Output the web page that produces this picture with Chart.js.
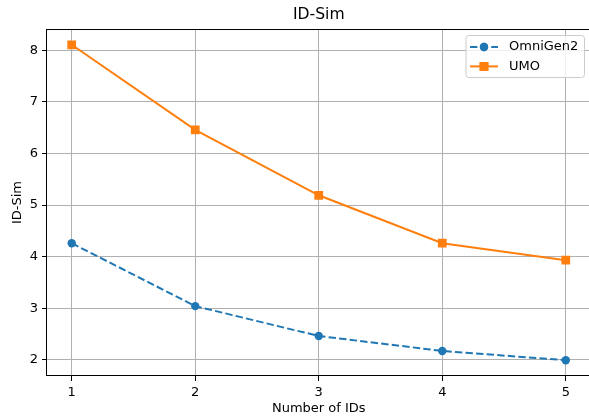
<!DOCTYPE html>
<html>
<head>
<meta charset="utf-8">
<script src="https://cdn.jsdelivr.net/npm/chart.js@4"></script>
<style>
html, body { margin: 0; padding: 0; background: #fff; overflow: hidden; }
#caixa { width: 589px; height: 417px; overflow: hidden; }
</style>
</head>
<body>
<div id="caixa"><canvas id="linhas" width="591" height="417"></canvas></div>
<script>
// dados
const numIds = [1, 2, 3, 4, 5];
const omnigen2 = [4.26, 3.04, 2.46, 2.17, 1.99];
const umo = [8.11, 6.46, 5.19, 4.26, 3.93];
const xTicks = [1, 2, 3, 4, 5];
const yTicks = [2, 3, 4, 5, 6, 7, 8];

Chart.defaults.font.family = "'DejaVu Sans', sans-serif";
Chart.defaults.font.size = 13;
Chart.defaults.color = '#000';

// margem de 5% como no matplotlib
const todos = omnigen2.concat(umo);
const yMin = Math.min(...todos), yMax = Math.max(...todos);
const yPad = (yMax - yMin) * 0.05;
const xPad = (numIds[numIds.length - 1] - numIds[0]) * 0.05;

const moldura = {
    id: 'moldura',
    afterDraw(chart) {
        const ctx = chart.ctx;
        const a = chart.chartArea;
        ctx.save();
        ctx.strokeStyle = '#000';
        ctx.lineWidth = 1;
        ctx.strokeRect(Math.round(a.left) - 0.5, Math.round(a.top) + 0.5,
            Math.round(a.width) + 1, Math.round(a.height) - 1);

        // legenda dentro do grafico
        const bx = a.right - 124.5, by = a.top + 6.5, bw = 118.5, bh = 42;
        ctx.beginPath();
        ctx.roundRect(bx, by, bw, bh, 3);
        ctx.fillStyle = 'rgba(255,255,255,0.8)';
        ctx.fill();
        ctx.strokeStyle = '#cccccc';
        ctx.stroke();

        chart.data.datasets.forEach((ds, i) => {
            const y = by + 11.5 + i * 19.4;
            ctx.beginPath();
            ctx.setLineDash(ds.borderDash || []);
            ctx.strokeStyle = ds.borderColor;
            ctx.lineWidth = ds.borderWidth;
            ctx.moveTo(bx + 4, y);
            ctx.lineTo(bx + 32, y);
            ctx.stroke();
            ctx.setLineDash([]);
            ctx.fillStyle = ds.backgroundColor;
            Chart.helpers.drawPoint(ctx, {pointStyle: ds.pointStyle, radius: ds.pointRadius, borderWidth: 0}, bx + 18, y);
            ctx.fill();
            ctx.fillStyle = '#000';
            ctx.font = "13px 'DejaVu Sans'";
            ctx.textBaseline = 'middle';
            ctx.textAlign = 'left';
            ctx.fillText(ds.label, bx + 43, y);
        });
        ctx.restore();
    }
};

let linhas = new Chart(document.getElementById("linhas"), {
    type: 'line',
    data: {
        datasets: [{
            label: "OmniGen2",
            data: numIds.map((v, i) => ({x: v, y: omnigen2[i]})),
            borderColor: "#1f77b4",
            backgroundColor: "#1f77b4",
            borderWidth: 2,
            borderDash: [7.4, 3.2],
            pointStyle: 'circle',
            pointRadius: 4.2,
            pointBorderWidth: 0,
            tension: 0
        },
            {
                label: "UMO",
                data: numIds.map((v, i) => ({x: v, y: umo[i]})),
                borderColor: "#ff7f0e",
                backgroundColor: "#ff7f0e",
                borderWidth: 2,
                pointStyle: 'rect',
                pointRadius: 6.2,
                pointBorderWidth: 0,
                tension: 0
            }]
    },
    options: {
        responsive: false,
        animation: false,
        layout: {
            autoPadding: false,
            padding: {left: 0, right: 0.5, top: 0, bottom: 0}
        },
        plugins: {
            legend: {display: false},
            tooltip: {enabled: false},
            title: {
                display: true,
                fullSize: false,
                text: 'ID-Sim',
                color: '#000',
                font: {size: 15.6, weight: 'normal', lineHeight: '19px'},
                padding: {top: 5, bottom: 5}
            }
        },
        scales: {
            x: {
                type: 'linear',
                min: numIds[0] - xPad,
                max: numIds[numIds.length - 1] + xPad,
                afterBuildTicks: s => { s.ticks = xTicks.map(v => ({value: v})); },
                afterFit: s => { s.height = 41; s.paddingLeft = 0; s.paddingRight = 0; },
                ticks: {padding: 4, maxRotation: 0, callback: v => v},
                grid: {color: '#b0b0b0', tickColor: '#000', tickLength: 5},
                border: {display: false},
                title: {display: true, text: 'Number of IDs', font: {size: 13}, padding: {top: 0, bottom: 1}}
            },
            y: {
                min: yMin - yPad,
                max: yMax + yPad,
                afterBuildTicks: s => { s.ticks = yTicks.map(v => ({value: v})); },
                afterFit: s => { s.width = 47; s.paddingTop = 0; s.paddingBottom = 0; },
                ticks: {padding: 4, callback: v => v},
                grid: {color: '#b0b0b0', tickColor: '#000', tickLength: 5},
                border: {display: false},
                title: {display: true, text: 'ID-Sim', font: {size: 13}, padding: {top: 10, bottom: 0}}
            }
        }
    },
    plugins: [moldura]
})
</script>
</body>
</html>
